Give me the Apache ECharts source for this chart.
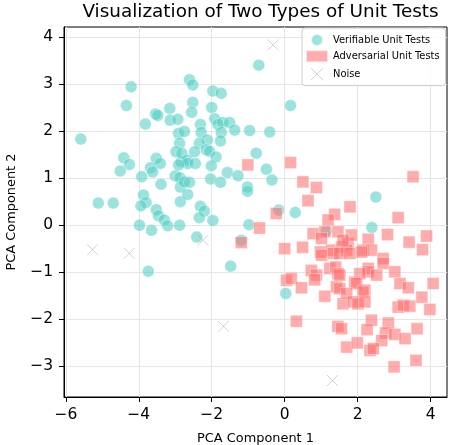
<!DOCTYPE html>
<html><head><meta charset="utf-8">
<script src="https://cdn.jsdelivr.net/npm/echarts@6/dist/echarts.min.js"></script>
<style>html,body{margin:0;padding:0;background:#fff}#c{width:450px;height:445px}</style>
</head><body><div id="c"></div>
<script>
const titleText = "Visualization of Two Types of Unit Tests";
const xName = "PCA Component 1";
const yName = "PCA Component 2";
const seriesNames = ["Verifiable Unit Tests", "Adversarial Unit Tests", "Noise"];
const xTicks = [-6, -4, -2, 0, 2, 4];
const yTicks = [-3, -2, -1, 0, 1, 2, 3, 4];

const verifiableX = [-4.21,-4.34,-3.54,-3.48,-3.15,-3.82,-3.14,-2.93,-5.59,-2.91,-2.88,-0.71,-2.61,-2.52,-1.97,-1.74,-2.52,-2.55,-2.00,0.16,-2.31,-1.92,-1.83,-1.70,-1.51,-2.29,-2.75,-1.74,-1.37,-0.96,-0.41,-2.12,-1.76,-2.34,-2.15,-2.06,-2.47,-0.78,-4.41,-4.26,-4.51,-3.52,-3.41,-3.68,-3.62,-3.92,-3.39,-3.00,-2.87,-2.86,-2.84,-3.87,-3.80,-3.94,-5.11,-4.70,-3.52,-3.46,-3.30,-3.21,-2.88,-3.98,-3.65,-2.86,-3.74,-2.98,-2.82,-2.67,-2.66,-2.45,-2.91,-1.88,-2.01,-1.57,-1.28,-2.03,-1.76,-0.50,-0.35,-2.75,-2.61,-1.02,-1.02,-2.66,-2.31,-2.20,-2.34,-1.97,-0.98,-2.41,-1.19,-0.16,0.29,-1.48,2.50,2.39,0.03,1.15];
const verifiableY = [2.94,2.54,2.36,2.33,2.48,2.15,2.23,2.25,1.83,1.95,1.74,3.40,3.09,2.98,2.85,2.80,2.61,2.40,2.50,2.54,2.14,2.26,2.14,2.18,2.18,1.97,1.99,1.97,2.02,2.01,1.98,1.81,1.79,1.74,1.60,1.57,1.56,1.53,1.43,1.29,1.15,1.42,1.31,1.22,1.13,1.03,0.87,1.05,1.01,0.81,1.35,0.64,0.48,0.41,0.47,0.47,0.33,0.20,0.11,-0.01,0.00,0.00,-0.11,0.50,-0.98,1.56,1.53,1.38,1.31,1.31,1.28,1.45,1.26,1.12,1.05,0.98,0.91,1.19,0.96,0.92,0.91,0.81,0.72,0.65,0.40,0.30,0.16,0.10,0.01,-0.25,-0.32,0.32,0.27,-0.87,0.60,-0.05,-1.45,-0.12];

const adversarialX = [-1.01,0.16,0.50,0.87,0.64,-0.23,-0.69,-1.19,0.00,0.49,1.37,1.79,1.19,0.78,1.10,1.46,0.98,1.28,1.56,1.74,1.01,1.70,3.52,3.11,1.83,2.82,3.89,2.29,3.41,3.78,2.15,2.38,1.60,2.70,1.01,1.33,1.51,0.73,0.87,0.82,1.24,1.40,1.46,0.05,0.18,0.46,1.42,1.10,1.60,0.32,1.46,1.56,1.70,1.79,2.11,2.29,2.29,2.70,3.02,2.06,2.52,1.51,1.92,1.97,3.16,3.39,4.07,2.20,2.15,1.51,1.70,3.76,1.88,2.01,2.20,3.11,3.25,3.43,3.98,2.38,2.84,2.26,3.63,2.77,3.02,3.30,1.99,2.66,2.34,2.43,3.00,3.60];
const adversarialY = [1.28,1.33,0.92,0.80,0.52,0.25,-0.06,-0.37,-0.50,-0.47,0.23,0.39,0.11,-0.18,-0.14,-0.14,-0.57,-0.53,-0.46,-0.39,-0.28,-0.53,1.03,0.16,-0.21,-0.20,-0.23,-0.30,-0.36,-0.52,-0.53,-0.53,-0.32,-0.71,-0.64,-0.60,-0.60,-0.96,-1.06,-1.16,-0.92,-0.89,-1.03,-1.17,-1.13,-1.33,-1.31,-1.51,-1.67,-2.04,-2.15,-2.20,-2.59,-0.60,-0.57,-0.92,-0.99,-0.81,-0.99,-1.03,-1.06,-1.06,-1.21,-1.24,-1.24,-1.33,-1.24,-1.38,-1.42,-1.35,-1.45,-1.53,-1.63,-1.67,-1.63,-1.74,-1.70,-1.72,-1.79,-2.02,-2.08,-2.22,-2.20,-2.29,-2.32,-2.41,-2.50,-2.45,-2.66,-2.62,-3.01,-2.87];

const noiseX = [-0.32,-5.27,-4.26,-2.24,-1.68,1.31];
const noiseY = [3.83,-0.52,-0.60,-0.32,-2.15,-3.30];

function zip(xs, ys) { return xs.map((x, i) => [x, ys[i]]); }
const minus = v => String(v).replace('-', '\u2212');
const FONT = 'DejaVu Sans';
const crossPath = 'path://M0,0L10,10M10,0L0,10';

const chart = echarts.init(document.getElementById('c'), null, {renderer: 'canvas'});
chart.setOption({
  animation: false,
  backgroundColor: '#fff',
  title: {
    text: titleText, left: 255.5, top: -2, textAlign: 'center',
    textStyle: {fontFamily: FONT, fontSize: 18.4, fontWeight: 'normal', color: '#000'}
  },
  legend: {
    orient: 'vertical', left: 302, top: 28,
    padding: [5, 6, 3, 3], itemGap: 2.3, itemWidth: 22, itemHeight: 12,
    backgroundColor: 'rgba(255,255,255,0.85)', borderColor: '#cccccc', borderWidth: 1, borderRadius: 3,
    textStyle: {fontFamily: FONT, fontSize: 9.9, color: '#000'},
    data: [
      {name: seriesNames[0], icon: 'circle'},
      {name: seriesNames[1], icon: 'rect'},
      {name: seriesNames[2], icon: crossPath, itemStyle: {color: 'none', borderColor: 'rgba(150,150,150,0.6)', borderWidth: 1}}
    ]
  },
  grid: {left: 64, right: 3, top: 27, bottom: 48, containLabel: false, outerBoundsMode: 'none',
         show: true, borderColor: '#000', borderWidth: 1, backgroundColor: 'transparent'},
  xAxis: {
    type: 'value', min: -6.05, max: 4.45,
    name: xName, nameLocation: 'middle', nameGap: 35,
    nameTextStyle: {fontFamily: FONT, fontSize: 12.9, color: '#000'},
    axisLine: {show: true, onZero: false, lineStyle: {color: '#000', width: 1}},
    axisTick: {show: true, length: 5, customValues: xTicks, lineStyle: {color: '#000'}},
    axisLabel: {customValues: xTicks, fontFamily: FONT, fontSize: 15.5, color: '#000', margin: 10, formatter: minus},
    splitLine: {show: true, lineStyle: {color: '#e5e5e5', width: 1}}
  },
  yAxis: {
    type: 'value', min: -3.65, max: 4.21,
    name: yName, nameLocation: 'middle', nameGap: 46, nameRotate: 90,
    nameTextStyle: {fontFamily: FONT, fontSize: 12.9, color: '#000'},
    axisLine: {show: true, onZero: false, lineStyle: {color: '#000', width: 1}},
    axisTick: {show: true, length: 5, customValues: yTicks, lineStyle: {color: '#000'}},
    axisLabel: {customValues: yTicks, fontFamily: FONT, fontSize: 15.5, color: '#000', margin: 11, formatter: minus},
    splitLine: {show: true, lineStyle: {color: '#e5e5e5', width: 1}}
  },
  series: [
    {
      name: seriesNames[0], type: 'scatter', symbol: 'circle', symbolSize: 12,
      data: zip(verifiableX, verifiableY),
      itemStyle: {color: 'rgba(78,205,196,0.7)', borderColor: 'rgba(255,255,255,0.8)', borderWidth: 0.6},
      z: 2
    },
    {
      name: seriesNames[1], type: 'scatter', symbol: 'rect', symbolSize: 12,
      data: zip(adversarialX, adversarialY),
      itemStyle: {color: 'rgba(255,107,107,0.7)', borderColor: 'rgba(255,255,255,0.8)', borderWidth: 0.6},
      z: 3
    },
    {
      name: seriesNames[2], type: 'scatter', symbol: crossPath, symbolSize: 11,
      data: zip(noiseX, noiseY),
      itemStyle: {color: 'none', borderColor: 'rgba(160,160,160,0.6)', borderWidth: 1},
      z: 4
    }
  ]
});
</script>
</body></html>
